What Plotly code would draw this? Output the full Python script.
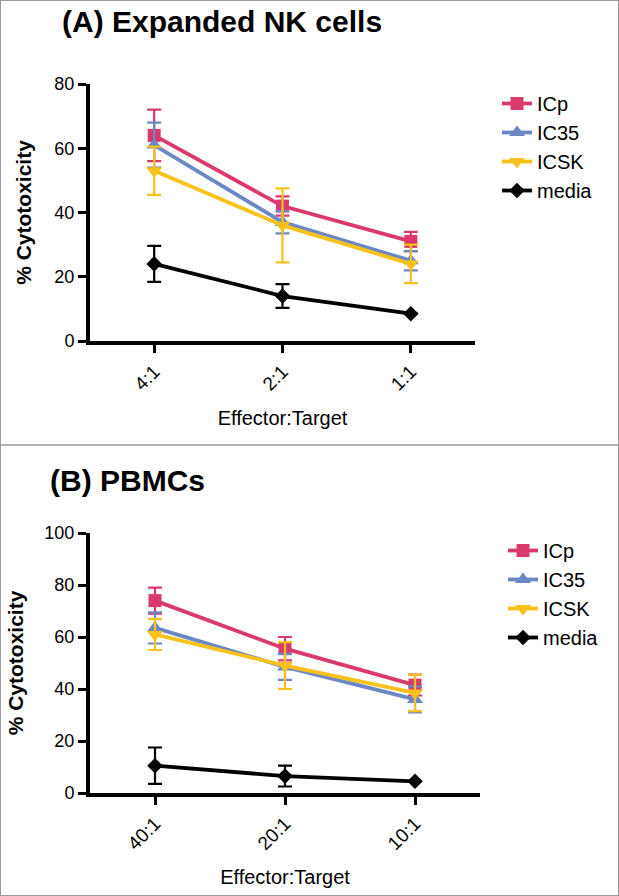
import plotly.graph_objects as go

# ---- data ----
series_names = ["ICp", "IC35", "ICSK", "media"]
colors = ["#D93A6B", "#6C88C4", "#F8C21C", "#000000"]
symbols = ["square", "triangle-up", "triangle-down", "diamond"]
marker_sizes = [13, 14, 14, 12]

cats_a = ["4:1", "2:1", "1:1"]
vals_a = {
    "ICp":   [64, 42, 31],
    "IC35":  [61, 37, 25],
    "ICSK":  [53, 36, 24],
    "media": [24, 14, 8.5],
}
errs_a = {
    "ICp":   [8, 3, 3],
    "IC35":  [7, 3.5, 3],
    "ICSK":  [7.5, 11.5, 6],
    "media": [5.6, 3.7, 0],
}

cats_b = ["40:1", "20:1", "10:1"]
vals_b = {
    "ICp":   [74, 55.5, 41.5],
    "IC35":  [63.5, 48.5, 36],
    "ICSK":  [61, 49, 38.5],
    "media": [10.5, 6.5, 4.5],
}
errs_b = {
    "ICp":   [5, 4.5, 4],
    "IC35":  [6, 5, 5],
    "ICSK":  [6, 9, 7],
    "media": [7, 4, 0],
}

yticks_a = [0, 20, 40, 60, 80]
yticks_b = [0, 20, 40, 60, 80, 100]

W, H = 619, 896
FONT = "Liberation Sans, Arial, sans-serif"

fig = go.Figure()

for panel, (cats, vals, errs, xa, ya, lg) in enumerate([
    (cats_a, vals_a, errs_a, "x", "y", "legend"),
    (cats_b, vals_b, errs_b, "x2", "y2", "legend2"),
]):
    for i, name in enumerate(series_names):
        fig.add_trace(go.Scatter(
            x=list(range(len(cats))), y=vals[name], name=name,
            xaxis=xa, yaxis=ya, legend=lg,
            mode="lines+markers",
            line=dict(color=colors[i], width=3.8),
            marker=dict(symbol=symbols[i], size=marker_sizes[i], color=colors[i]),
            error_y=dict(type="data", array=errs[name], visible=True,
                         color=colors[i], thickness=2.2, width=7),
        ))

def px_x(p):
    return p / W

def px_y(p):
    return 1 - p / H

axis_common = dict(
    showline=True, linecolor="black", linewidth=4,
    ticks="outside", ticklen=8, tickwidth=3, tickcolor="black",
    showgrid=False, zeroline=False, automargin=False,
    tickfont=dict(family=FONT, size=18, color="black"),
)

fig.update_layout(
    width=W, height=H,
    margin=dict(l=0, r=0, t=0, b=0, pad=0, autoexpand=False),
    paper_bgcolor="white", plot_bgcolor="white",
    font=dict(family=FONT, color="black"),
    xaxis=dict(domain=[px_x(90), px_x(475)], anchor="y", range=[-0.5, 2.5],
               tickmode="array", tickvals=[0, 1, 2], ticktext=cats_a, tickangle=-45,
               tickfont=dict(family=FONT, size=19, color="black"),
               title=dict(text="Effector:Target", font=dict(size=20, family=FONT), standoff=18),
               **{k: v for k, v in axis_common.items() if k != "tickfont"}),
    yaxis=dict(domain=[px_y(341), px_y(84)], anchor="x", range=[0, 80],
               tickmode="array", tickvals=yticks_a,
               title=dict(text="<b>% Cytotoxicity</b>", font=dict(size=21, family=FONT), standoff=18),
               **axis_common),
    xaxis2=dict(domain=[px_x(90), px_x(480)], anchor="y2", range=[-0.5, 2.5],
                tickmode="array", tickvals=[0, 1, 2], ticktext=cats_b, tickangle=-45,
                tickfont=dict(family=FONT, size=19, color="black"),
                title=dict(text="Effector:Target", font=dict(size=20, family=FONT), standoff=18),
                **{k: v for k, v in axis_common.items() if k != "tickfont"}),
    yaxis2=dict(domain=[px_y(793), px_y(533)], anchor="x2", range=[0, 100],
                tickmode="array", tickvals=yticks_b,
                title=dict(text="<b>% Cytotoxicity</b>", font=dict(size=21, family=FONT), standoff=16),
                **axis_common),
    legend=dict(x=px_x(497), y=px_y(84), xanchor="left", yanchor="top",
                font=dict(family=FONT, size=20), bgcolor="rgba(0,0,0,0)",
                tracegroupgap=0, itemwidth=30),
    legend2=dict(x=px_x(503), y=px_y(531), xanchor="left", yanchor="top",
                 font=dict(family=FONT, size=20), bgcolor="rgba(0,0,0,0)",
                 tracegroupgap=0, itemwidth=30),
    showlegend=True,
    annotations=[
        dict(text="<b>(A) Expanded NK cells</b>", x=px_x(60), y=px_y(22),
             xref="paper", yref="paper", xanchor="left", yanchor="middle",
             showarrow=False, font=dict(family=FONT, size=30, color="black")),
        dict(text="<b>(B) PBMCs</b>", x=px_x(48), y=px_y(480),
             xref="paper", yref="paper", xanchor="left", yanchor="middle",
             showarrow=False, font=dict(family=FONT, size=30, color="black")),
    ],
    shapes=[
        dict(type="rect", xref="paper", yref="paper", x0=0, y0=0, x1=1, y1=1,
             line=dict(color="#9a9a9a", width=2)),
        dict(type="line", xref="paper", yref="paper", x0=0, x1=1,
             y0=px_y(445), y1=px_y(445), line=dict(color="#9a9a9a", width=1.5)),
    ],
)

fig.write_html("out.html", config={"displayModeBar": False})

# remove the default page margin so the figure sits at the window origin
with open("out.html", "r", encoding="utf-8") as f:
    html = f.read()
html = html.replace("<head>", "<head><style>html,body{margin:0;padding:0;overflow:hidden;}</style>", 1)
with open("out.html", "w", encoding="utf-8") as f:
    f.write(html)
